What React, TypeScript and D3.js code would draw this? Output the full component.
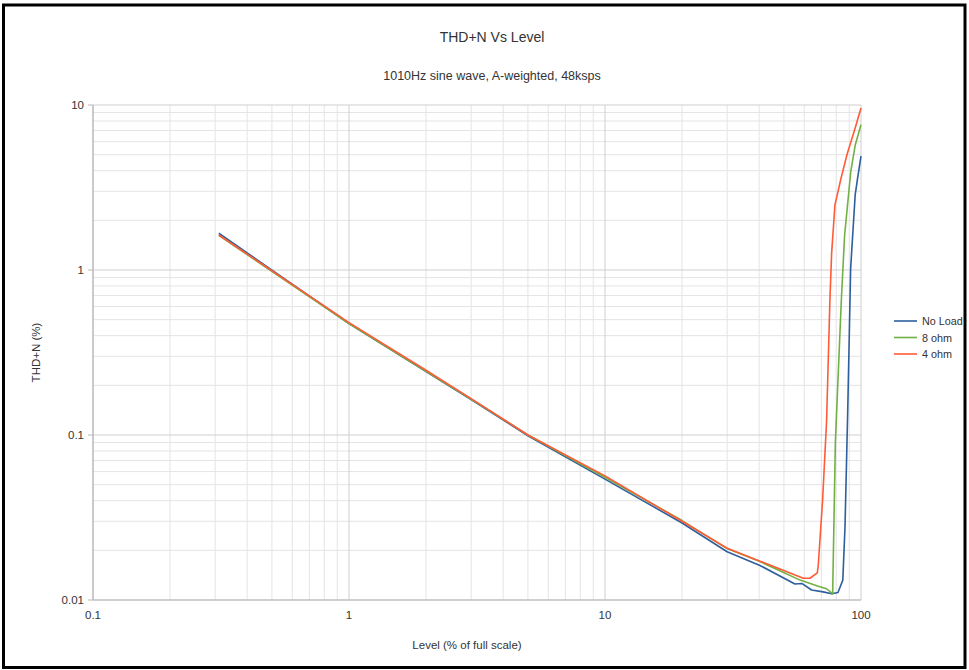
import React from "react";
import * as d3 from "d3";

const W = 969;
const H = 670;

const noLoadLevel = [0.31, 1, 2, 3, 5, 10, 20, 30, 40.3, 55.2, 58.7, 64.1, 71.1, 76.8, 81.3, 84.9, 86.6, 88.7, 91.1, 94.9, 97, 100];
const noLoadThd = [1.67, 0.474, 0.242, 0.164, 0.099, 0.054, 0.0293, 0.0196, 0.0162, 0.0125, 0.0126, 0.0115, 0.0112, 0.0109, 0.0111, 0.0132, 0.0278, 0.135, 1.02, 2.85, 3.6, 4.9];

const eightLevel = [0.31, 1, 2, 3, 5, 10, 20, 30, 40.3, 57.8, 68.1, 73.4, 77.5, 79.4, 83.8, 86.3, 91.2, 94.9, 100];
const eightThd = [1.62, 0.474, 0.243, 0.165, 0.1, 0.0555, 0.0303, 0.0205, 0.0171, 0.0132, 0.0121, 0.0117, 0.0109, 0.09, 0.66, 1.63, 3.94, 5.7, 7.6];

const fourLevel = [0.31, 1, 2, 3, 5, 10, 20, 30, 40.3, 59.5, 63.2, 67.5, 68.1, 70.8, 73.4, 75.6, 76.8, 79.1, 83.6, 88.3, 94.9, 100];
const fourThd = [1.63, 0.48, 0.247, 0.166, 0.1, 0.0565, 0.03, 0.0206, 0.0172, 0.01355, 0.01355, 0.0146, 0.0163, 0.0404, 0.123, 0.658, 1.27, 2.48, 3.61, 5.05, 7.26, 9.6];

const seriesNames = ["No Load", "8 ohm", "4 ohm"];
const seriesColors = ["#2d5f9c", "#72b043", "#ff5b37"];

const xTicks = [0.1, 1, 10, 100];
const xTickLabels = ["0.1", "1", "10", "100"];
const yTicks = [0.01, 0.1, 1, 10];
const yTickLabels = ["0.01", "0.1", "1", "10"];

const title = "THD+N Vs Level";
const subtitle = "1010Hz sine wave, A-weighted, 48ksps";
const xTitle = "Level (% of full scale)";
const yTitle = "THD+N (%)";

export default function App() {
  const left = 93, right = 861, top = 105, bottom = 600;
  const x = d3.scaleLog().domain([0.1, 100]).range([left, right]);
  const y = d3.scaleLog().domain([0.01, 10]).range([bottom, top]);

  const series = [
    { level: noLoadLevel, thd: noLoadThd },
    { level: eightLevel, thd: eightThd },
    { level: fourLevel, thd: fourThd },
  ];

  const minorX: number[] = [];
  for (let d = 0.1; d < 100; d *= 10) {
    for (let k = 2; k <= 9; k++) minorX.push(+(d * k).toPrecision(3));
  }
  const minorY: number[] = [];
  for (let d = 0.01; d < 10; d *= 10) {
    for (let k = 2; k <= 9; k++) minorY.push(+(d * k).toPrecision(3));
  }

  const line = d3
    .line<[number, number]>()
    .x((d) => x(d[0]))
    .y((d) => y(d[1]));

  const font = "'Liberation Sans', Arial, sans-serif";
  const textColor = "#333";
  const fs = 11.5;

  return (
    <svg
      width={W}
      height={H}
      style={{ position: "absolute", left: 0, top: 0, background: "#fff" }}
      fontFamily={font}
    >
      <rect x={0} y={0} width={W} height={H} fill="#fff" />
      <rect x={3.5} y={5} width={961.5} height={662.5} fill="none" stroke="#000" strokeWidth={3} />

      <text x={492} y={42} textAnchor="middle" fontSize={14} fill={textColor}>
        {title}
      </text>
      <text x={492} y={80} textAnchor="middle" fontSize={12.5} fill={textColor}>
        {subtitle}
      </text>

      {/* minor grid */}
      {minorX.map((v, i) => (
        <line key={"mx" + i} x1={x(v)} x2={x(v)} y1={top} y2={bottom} stroke="#e4e4e4" strokeWidth={1} />
      ))}
      {minorY.map((v, i) => (
        <line key={"my" + i} x1={left} x2={right} y1={y(v)} y2={y(v)} stroke="#e4e4e4" strokeWidth={1} />
      ))}
      {/* major grid */}
      {xTicks.map((v, i) => (
        <line key={"Mx" + i} x1={x(v)} x2={x(v)} y1={top} y2={bottom} stroke="#cfcfcf" strokeWidth={1} />
      ))}
      {yTicks.map((v, i) => (
        <line key={"My" + i} x1={left} x2={right} y1={y(v)} y2={y(v)} stroke="#cfcfcf" strokeWidth={1} />
      ))}
      {/* axes */}
      <line x1={left} x2={left} y1={top} y2={bottom} stroke="#b8b8b8" strokeWidth={1.2} />
      <line x1={left} x2={right} y1={bottom} y2={bottom} stroke="#b8b8b8" strokeWidth={1.2} />
      {yTicks.map((v, i) => (
        <line key={"yt" + i} x1={left - 5} x2={left} y1={y(v)} y2={y(v)} stroke="#b8b8b8" strokeWidth={1} />
      ))}

      {yTicks.map((v, i) => (
        <text key={"yl" + i} x={left - 9} y={y(v) + 4} textAnchor="end" fontSize={fs} fill={textColor}>
          {yTickLabels[i]}
        </text>
      ))}
      {xTicks.map((v, i) => (
        <text key={"xl" + i} x={x(v)} y={619} textAnchor="middle" fontSize={fs} fill={textColor}>
          {xTickLabels[i]}
        </text>
      ))}

      <text x={467} y={649} textAnchor="middle" fontSize={fs} fill={textColor}>
        {xTitle}
      </text>
      <text
        transform={`translate(40, ${(top + bottom) / 2}) rotate(-90)`}
        textAnchor="middle"
        fontSize={fs}
        fill={textColor}
      >
        {yTitle}
      </text>

      {series.map((s, i) => (
        <path
          key={"s" + i}
          d={line(s.level.map((lv, j) => [lv, s.thd[j]] as [number, number])) || ""}
          fill="none"
          stroke={seriesColors[i]}
          strokeWidth={1.6}
          strokeLinejoin="round"
        />
      ))}

      {seriesNames.map((n, i) => (
        <g key={"lg" + i}>
          <line x1={894} x2={917} y1={321 + i * 16.5} y2={321 + i * 16.5} stroke={seriesColors[i]} strokeWidth={1.6} />
          <text x={922} y={325 + i * 16.5} fontSize={10.8} fill={textColor}>
            {n}
          </text>
        </g>
      ))}
    </svg>
  );
}
